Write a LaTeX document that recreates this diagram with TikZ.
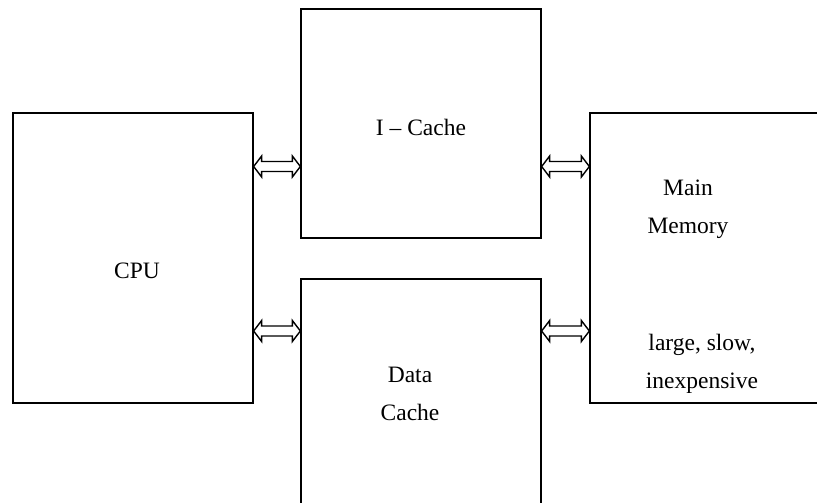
\documentclass[tikz,border=0pt]{standalone}
\usepackage{fontspec}
\setmainfont{Liberation Serif}
\usetikzlibrary{calc}

\tikzset{
  unit/.style={draw, line width=1.3pt, rectangle, minimum width=240pt, inner sep=0pt},
  label/.style={font=\fontsize{23.5}{38}\selectfont, align=center, inner sep=0pt},
  bus/.style={draw, line width=1.4pt, fill=white, line join=miter},
}

% double-headed block arrow from the east side of #1 to the west side of #2,
% centred on the height of coordinate #3
\newcommand\busarrow[3]{%
  \draw[bus] (#1.east |- #3) -- ++(8,-10.5) -- ++(0,5.5)
    -- ($(#2.west |- #3)+(-8,-5)$) -- ++(0,-5.5) -- (#2.west |- #3)
    -- ++(-8,10.5) -- ++(0,-5.5) -- ($(#1.east |- #3)+(8,5)$)
    -- ++(0,5.5) -- cycle;}

\begin{document}
\begin{tikzpicture}[x=1pt, y=-1pt]
  \useasboundingbox (0,0) rectangle (817,503);
  \clip (0,0) rectangle (817,503);

  % functional units
  \node[unit, minimum height=290pt] (cpu)    at (133,258)   {};
  \node[unit, minimum height=229pt] (icache) at (421,123.5) {};
  \node[unit, minimum height=239pt] (dcache) at (421,398.5) {};
  \node[unit, minimum height=290pt] (mem)    at (710,258)   {};

  % labels
  \node[label] (cpul)  at (137,271)   {CPU};
  \node[label] (icl)   at (421,127)   {I -- Cache};
  \node[label] (dcl)   at (410,394)   {Data\\Cache};
  \node[label] (meml)  at (688,209)   {Main\\Memory};
  \node[label] (costl) at (702,364)   {large, slow,\\inexpensive};

  % bus rows
  \coordinate (upper) at (0,166.5);
  \coordinate (lower) at (0,331);

  \busarrow{cpu}{icache}{upper}
  \busarrow{cpu}{dcache}{lower}
  \busarrow{icache}{mem}{upper}
  \busarrow{dcache}{mem}{lower}
\end{tikzpicture}
\end{document}
